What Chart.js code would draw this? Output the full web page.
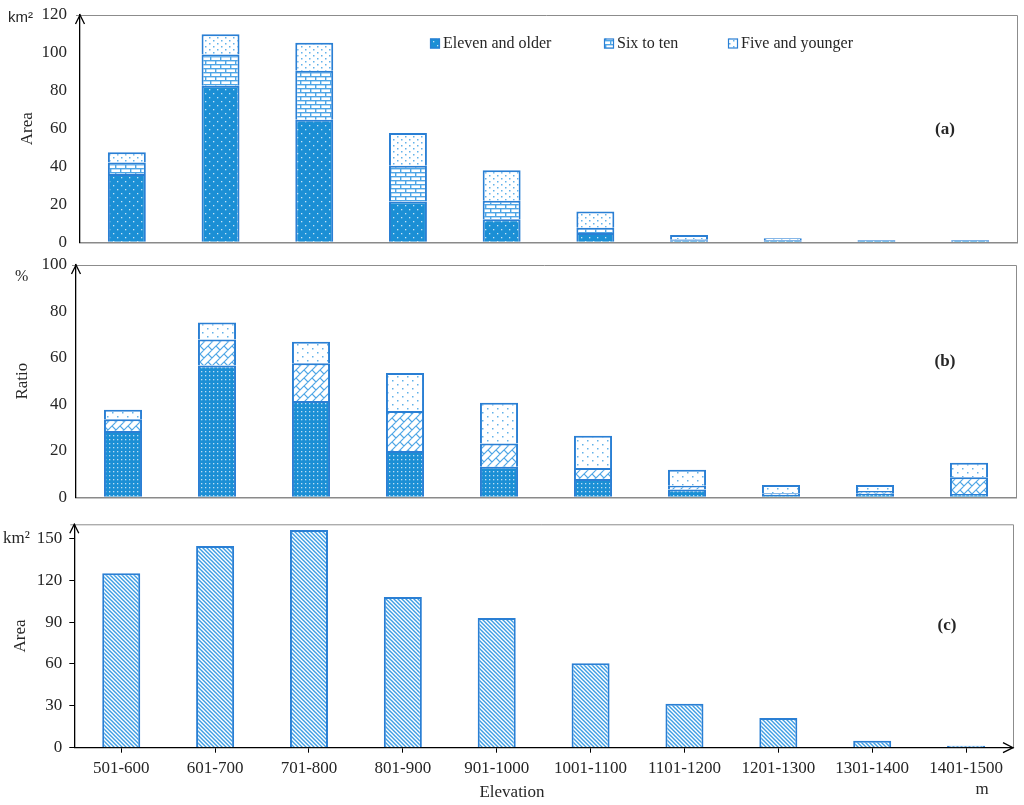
<!DOCTYPE html>
<html>
<head>
<meta charset="utf-8">
<script src="https://cdn.jsdelivr.net/npm/chart.js@4"></script>
<style>
body { margin: 0; background: #fff; }
#wrap { position: relative; width: 1024px; height: 805px; background: #fff; overflow: hidden; }
#wrap canvas { position: absolute; left: 0; }
</style>
</head>
<body>
<div id="wrap">
  <canvas id="chartA" width="1024" height="255" style="top:0px"></canvas>
  <canvas id="chartB" width="1024" height="260" style="top:250px"></canvas>
  <canvas id="chartC" width="1024" height="300" style="top:505px"></canvas>
</div>
<script>
// elevation classes
const elevations = ['501-600', '601-700', '701-800', '801-900', '901-1000',
  '1001-1100', '1101-1200', '1201-1300', '1301-1400', '1401-1500'];
const seriesNames = ['Eleven and older', 'Six to ten', 'Five and younger'];

// (a) area by age group, km2
const areaEleven = [36.1, 82.7, 64.7, 21.5, 12.2, 4.9, 1.1, 0.3, 0.1, 0.02];
const areaSix = [6.0, 16.4, 25.9, 18.9, 9.7, 2.8, 0.5, 0.2, 0.05, 0.05];
const areaFive = [5.5, 10.7, 14.7, 17.3, 16.2, 8.5, 2.2, 0.9, 0.15, 0.05];

// (b) ratio by age group, %
const ratioEleven = [28.5, 56.7, 41.5, 19.9, 13.2, 7.9, 3.4, 1.0, 1.5, 1.4];
const ratioSix = [5.1, 11.2, 16.2, 17.3, 10.0, 4.7, 1.6, 0.7, 1.2, 7.2];
const ratioFive = [4.1, 7.4, 9.3, 16.3, 17.5, 13.9, 6.9, 3.6, 2.6, 6.3];

// (c) total area, km2
const totalArea = [124.9, 144.5, 155.9, 108.0, 92.9, 60.4, 31.5, 21.3, 5.0, 0.7];

// tick labels
const areaTicks = [0, 20, 40, 60, 80, 100, 120];
const ratioTicks = [0, 20, 40, 60, 80, 100];
const totalTicks = [0, 30, 60, 90, 120, 150];

const serif = "'Liberation Serif', 'Times New Roman', serif";
const ink = '#262626';
const edge = '#2a7fd4';
const deep = '#1b8fd5';
const light = '#4ea6e6';

Chart.defaults.font.family = serif;
Chart.defaults.font.size = 17;
Chart.defaults.color = ink;

// small tiles used as fill patterns
function tile(w, h, draw) {
  const c = document.createElement('canvas');
  c.width = w; c.height = h;
  const g = c.getContext('2d');
  draw(g);
  return g.createPattern(c, 'repeat');
}

const pat = {
  elevenA: tile(8, 8, g => {
    g.fillStyle = deep; g.fillRect(0, 0, 8, 8);
    g.fillStyle = 'rgba(255,255,255,0.75)';
    g.fillRect(1, 1, 1.3, 1.3); g.fillRect(5, 5, 1.3, 1.3);
  }),
  elevenB: tile(4, 4, g => {
    g.fillStyle = deep; g.fillRect(0, 0, 4, 4);
    g.fillStyle = 'rgba(255,255,255,0.7)';
    g.fillRect(1, 1, 1.3, 1.3);
  }),
  brick: tile(10, 8, g => {
    g.fillStyle = '#fff'; g.fillRect(0, 0, 10, 8);
    g.fillStyle = light;
    g.fillRect(0, 0, 10, 1.4); g.fillRect(0, 4, 10, 1.4);
    g.fillRect(0, 0, 1.4, 4); g.fillRect(5, 4, 1.4, 4);
  }),
  hatch: tile(8, 8, g => {
    g.fillStyle = '#fff'; g.fillRect(0, 0, 8, 8);
    g.strokeStyle = light; g.lineWidth = 1.2;
    g.beginPath();
    g.moveTo(-1, 9); g.lineTo(9, -1);
    g.moveTo(-1, 1); g.lineTo(1, -1);
    g.moveTo(7, 9); g.lineTo(9, 7);
    g.moveTo(0, 0); g.lineTo(4, 4);
    g.stroke();
  }),
  fiveA: tile(8, 6, g => {
    g.fillStyle = '#fff'; g.fillRect(0, 0, 8, 6);
    g.fillStyle = '#62b2ea';
    g.fillRect(1, 1, 1.5, 1.5); g.fillRect(5, 4, 1.5, 1.5);
  }),
  fiveB: tile(10, 8, g => {
    g.fillStyle = '#fff'; g.fillRect(0, 0, 10, 8);
    g.fillStyle = '#62b2ea';
    g.fillRect(2, 2, 1.5, 1.5); g.fillRect(7, 6, 1.5, 1.5);
  }),
  stripes: tile(4, 4, g => {
    g.fillStyle = '#fff'; g.fillRect(0, 0, 4, 4);
    g.strokeStyle = '#3d9de3'; g.lineWidth = 1.4;
    g.beginPath();
    g.moveTo(-1, -1); g.lineTo(5, 5);
    g.moveTo(-5, -1); g.lineTo(1, 5);
    g.moveTo(3, -1); g.lineTo(9, 5);
    g.stroke();
  })
};

// frame, arrows, units, panel tags and legend
const decor = {
  id: 'decor',
  afterDraw(chart, args, o) {
    const { ctx, chartArea: a } = chart;
    ctx.save();
    ctx.strokeStyle = '#8c8c8c';
    ctx.lineWidth = 1;
    ctx.beginPath();
    ctx.moveTo(a.left - 4, a.top + 0.5);
    ctx.lineTo(a.right + 0.5, a.top + 0.5);
    ctx.lineTo(a.right + 0.5, a.bottom);
    ctx.stroke();

    ctx.strokeStyle = '#000';
    ctx.lineWidth = 1.3;
    ctx.beginPath();
    ctx.moveTo(a.left - 4.5, a.top + 9);
    ctx.lineTo(a.left, a.top);
    ctx.lineTo(a.left + 4.5, a.top + 9);
    if (o.xArrow) {
      ctx.moveTo(a.right - 10, a.bottom - 5);
      ctx.lineTo(a.right, a.bottom);
      ctx.lineTo(a.right - 10, a.bottom + 5);
    }
    ctx.stroke();

    ctx.fillStyle = ink;
    ctx.textBaseline = 'middle';
    (o.texts || []).forEach(t => {
      ctx.font = t.font;
      ctx.textAlign = t.align || 'center';
      ctx.fillText(t.text, t.x, t.y);
    });

    if (o.legend) {
      ctx.font = '16px ' + serif;
      ctx.textAlign = 'left';
      chart.data.datasets.forEach((ds, i) => {
        const x = o.legend.x[i], y = o.legend.y;
        ctx.fillStyle = ds.backgroundColor;
        ctx.fillRect(x, y - 5, 10, 10);
        ctx.strokeStyle = edge;
        ctx.lineWidth = 1.2;
        ctx.strokeRect(x + 0.5, y - 4.5, 9, 9);
        ctx.fillStyle = ink;
        ctx.fillText(ds.label, x + 13, y);
      });
    }
    ctx.restore();
  }
};

function hiddenX(stacked, color) {
  return {
    stacked: stacked,
    afterFit: s => { s.height = 0; },
    grid: { display: false, drawTicks: false },
    ticks: { display: false },
    border: { color: color, width: 1.5 }
  };
}

// gap between labels and axis comes from an invisible tick mark,
// so the label padding does not push the plot area inwards
function yAxis(opts) {
  return {
    stacked: opts.stacked,
    min: 0,
    max: opts.max,
    afterBuildTicks: s => { s.ticks = opts.ticks.map(v => ({ value: v })); },
    afterFit: s => { s.width = opts.width; },
    grid: opts.grid || { display: true, drawOnChartArea: false, drawTicks: true, tickLength: opts.gap, color: 'rgba(0,0,0,0)' },
    border: { color: '#000', width: 1.3 },
    ticks: { padding: opts.pad || 0, color: ink, font: { size: 17 } },
    title: {
      display: true, text: opts.title, color: ink,
      font: { size: 17 }, padding: { top: opts.titlePad, bottom: 0 }
    }
  };
}

function barSet(label, data, fill, minLen) {
  return {
    label: label, data: data,
    backgroundColor: fill, borderColor: edge, borderWidth: 2,
    barPercentage: 0.405, categoryPercentage: 1,
    minBarLength: minLen || 0
  };
}

const base = {
  responsive: false,
  animation: false,
  events: []
};

// (a)
new Chart(document.getElementById('chartA'), {
  type: 'bar',
  data: {
    labels: elevations,
    datasets: [
      barSet(seriesNames[0], areaEleven, pat.elevenA, 2),
      barSet(seriesNames[1], areaSix, pat.brick),
      barSet(seriesNames[2], areaFive, pat.fiveA)
    ]
  },
  options: Object.assign({}, base, {
    layout: { padding: { left: 0, right: 7, top: 15, bottom: 12.7 } },
    scales: {
      x: hiddenX(true, '#8a8a8a'),
      y: yAxis({ stacked: true, max: 120, ticks: areaTicks, width: 80, gap: 13, title: 'Area', titlePad: 17 })
    },
    plugins: {
      legend: { display: false },
      tooltip: { enabled: false },
      decor: {
        legend: { x: [430, 604, 728], y: 43.5 },
        texts: [
          { text: 'km²', x: 8, y: 18, align: 'left', font: "15px 'Liberation Sans', Arial, sans-serif" },
          { text: '(a)', x: 945, y: 130, font: 'bold 17px ' + serif }
        ]
      }
    }
  }),
  plugins: [decor]
});

// (b)
new Chart(document.getElementById('chartB'), {
  type: 'bar',
  data: {
    labels: elevations,
    datasets: [
      barSet(seriesNames[0], ratioEleven, pat.elevenB),
      barSet(seriesNames[1], ratioSix, pat.hatch),
      barSet(seriesNames[2], ratioFive, pat.fiveB)
    ]
  },
  options: Object.assign({}, base, {
    layout: { padding: { left: 0, right: 8, top: 15, bottom: 12.7 } },
    scales: {
      x: hiddenX(true, '#8a8a8a'),
      y: yAxis({ stacked: true, max: 100, ticks: ratioTicks, width: 76, gap: 9, title: 'Ratio', titlePad: 12 })
    },
    plugins: {
      legend: { display: false },
      tooltip: { enabled: false },
      decor: {
        texts: [
          { text: '%', x: 15, y: 27, align: 'left', font: '16px ' + serif },
          { text: '(b)', x: 945, y: 112, font: 'bold 17px ' + serif }
        ]
      }
    }
  }),
  plugins: [decor]
});

// (c)
new Chart(document.getElementById('chartC'), {
  type: 'bar',
  data: {
    labels: elevations,
    datasets: [barSet('Area', totalArea, pat.stripes, 2)]
  },
  options: Object.assign({}, base, {
    layout: { padding: { left: 0, right: 11, top: 19.3, bottom: 0 } },
    scales: {
      x: {
        afterFit: s => { s.height = 57.3; },
        grid: { display: true, drawOnChartArea: false, drawTicks: true, tickLength: 5, color: '#000', offset: false },
        border: { color: '#000', width: 1.3 },
        ticks: { padding: 6, color: ink, font: { size: 17 }, maxRotation: 0, autoSkip: false }
      },
      y: yAxis({
        stacked: false, max: 160, ticks: totalTicks, width: 74.3, pad: 7, title: 'Area', titlePad: 10,
        grid: { display: true, drawOnChartArea: false, drawTicks: true, tickLength: 5, color: '#000' }
      })
    },
    plugins: {
      legend: { display: false },
      tooltip: { enabled: false },
      decor: {
        xArrow: true,
        texts: [
          { text: 'km²', x: 3, y: 34, align: 'left', font: '17px ' + serif },
          { text: '(c)', x: 947, y: 121, font: 'bold 17px ' + serif },
          { text: 'Elevation', x: 512, y: 287.7, font: '17px ' + serif },
          { text: 'm', x: 982, y: 285, font: '17px ' + serif }
        ]
      }
    }
  }),
  plugins: [decor]
});
</script>
</body>
</html>
